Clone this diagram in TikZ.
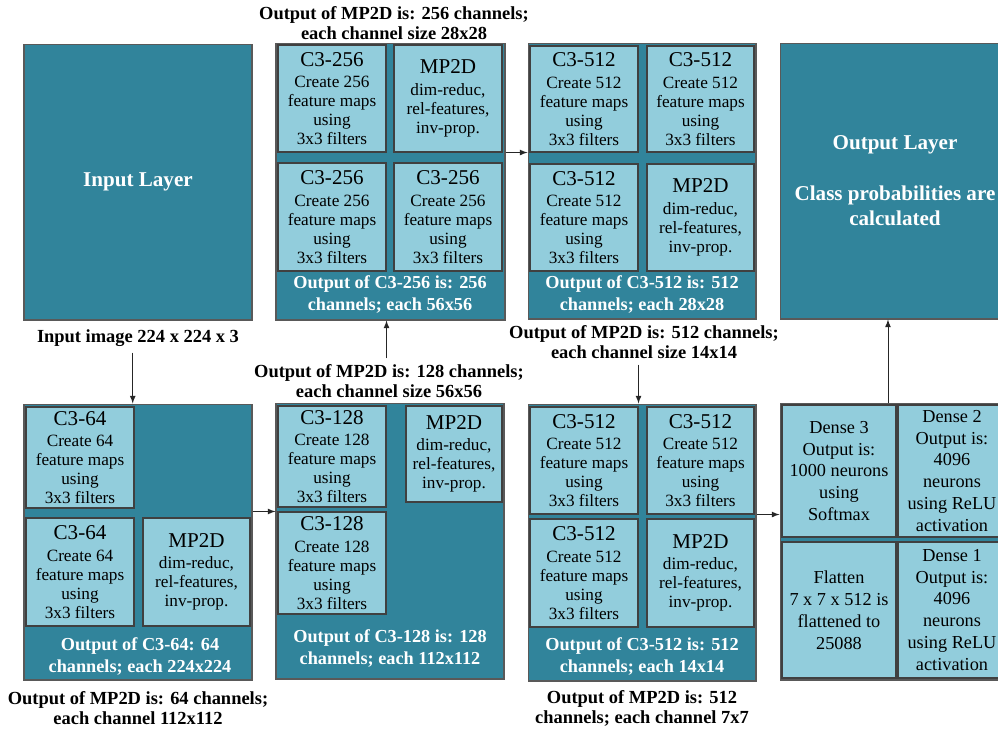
\documentclass[tikz,border=0pt]{standalone}
\usepackage{fontspec}
\setmainfont{Liberation Serif}
\usetikzlibrary{arrows}

\definecolor{layerteal}{RGB}{49,132,155}
\definecolor{maplight}{RGB}{146,205,220}

\begin{document}
\begin{tikzpicture}[x=0.02cm,y=-0.02cm]
                \tikzstyle{block}=[draw=black!65, fill=layerteal, inner sep=0pt, line width=0.6pt]
                \tikzstyle{unit}=[draw=black!75, fill=maplight, inner sep=0pt, align=center, line width=0.6pt, font=\fontsize{9.8}{10.8}\selectfont]
                \tikzstyle{dense}=[unit, font=\fontsize{10.4}{12.5}\selectfont]
                \tikzstyle{inside}=[text=white, align=center, font=\fontsize{10.4}{12.5}\selectfont\bfseries]
                \tikzstyle{caption}=[align=center, font=\fontsize{10.5}{11.3}\selectfont\bfseries]
                \tikzstyle{big}=[text=white, align=center, font=\fontsize{12}{14.2}\selectfont\bfseries]
                \tikzstyle{arr}=[-latex, black!85, line width=0.5pt]
                
                \useasboundingbox (0,0) rectangle (998,734);
                \clip (0,0) rectangle (998,734);
                
                % input
                \node[block, big, minimum width=4.56cm, minimum height=5.52cm] (inl) at (138,182) {Input Layer};
                \node[caption] (inlbl) at (138,338) {Input image 224 x 224 x 3};
                
                % C3-64
                \node[block, minimum width=4.56cm, minimum height=5.52cm] (b1) at (138,542) {};
                \node[unit, minimum width=2.16cm, minimum height=2.02cm] (c1a) at (80,457.5) {{\fontsize{12}{12}\selectfont C3-64}\\[1.5pt]Create 64\\feature maps\\using\\3x3 filters};
                \node[unit, minimum width=2.16cm, minimum height=2.16cm] (c1b) at (80,572) {{\fontsize{12}{12}\selectfont C3-64}\\[1.5pt]Create 64\\feature maps\\using\\3x3 filters};
                \node[unit, minimum width=2.14cm, minimum height=2.16cm] (m1) at (196.5,572) {{\fontsize{12}{12}\selectfont MP2D}\\[1.5pt]dim-reduc,\\rel-features,\\inv-prop.};
                \node[inside] (b1out) at (140,656) {Output of C3-64: 64\\channels; each 224x224};
                \node[caption] (b1lbl) at (138,708) {Output of MP2D is: 64 channels;\\each channel 112x112};
                
                % C3-128
                \node[block, minimum width=4.56cm, minimum height=5.52cm] (b2) at (390,541) {};
                \node[unit, minimum width=2.16cm, minimum height=2.02cm] (c2a) at (332,456.5) {{\fontsize{12}{12}\selectfont C3-128}\\[1.5pt]Create 128\\feature maps\\using\\3x3 filters};
                \node[unit, minimum width=2.16cm, minimum height=2.04cm] (c2b) at (332,563) {{\fontsize{12}{12}\selectfont C3-128}\\[1.5pt]Create 128\\feature maps\\using\\3x3 filters};
                \node[unit, minimum width=1.92cm, minimum height=1.92cm] (m2) at (454,454) {{\fontsize{12}{12}\selectfont MP2D}\\[1.5pt]dim-reduc,\\rel-features,\\inv-prop.};
                \node[inside] (b2out) at (390,648) {Output of C3-128 is: 128\\channels; each 112x112};
                \node[caption] (b2lbl) at (389,381) {Output of MP2D is: 128 channels;\\each channel size 56x56};
                
                % C3-256
                \node[block, minimum width=4.58cm, minimum height=5.54cm] (b3) at (390.5,181.5) {};
                \node[unit, minimum width=2.16cm, minimum height=2.14cm] (c3a) at (332,98.5) {{\fontsize{12}{12}\selectfont C3-256}\\[1.5pt]Create 256\\feature maps\\using\\3x3 filters};
                \node[unit, minimum width=2.16cm, minimum height=2.14cm] (m3) at (448,98.5) {{\fontsize{12}{12}\selectfont MP2D}\\[1.5pt]dim-reduc,\\rel-features,\\inv-prop.};
                \node[unit, minimum width=2.16cm, minimum height=2.16cm] (c3b) at (332,217) {{\fontsize{12}{12}\selectfont C3-256}\\[1.5pt]Create 256\\feature maps\\using\\3x3 filters};
                \node[unit, minimum width=2.16cm, minimum height=2.16cm] (c3c) at (448,217) {{\fontsize{12}{12}\selectfont C3-256}\\[1.5pt]Create 256\\feature maps\\using\\3x3 filters};
                \node[inside] (b3out) at (390,294) {Output of C3-256 is: 256\\channels; each 56x56};
                \node[caption] (b3lbl) at (394,23) {Output of MP2D is: 256 channels;\\each channel size 28x28};
                
                % C3-512, first
                \node[block, minimum width=4.56cm, minimum height=5.52cm] (b4) at (642,181) {};
                \node[unit, minimum width=2.16cm, minimum height=2.12cm] (c4a) at (584,99) {{\fontsize{12}{12}\selectfont C3-512}\\[1.5pt]Create 512\\feature maps\\using\\3x3 filters};
                \node[unit, minimum width=2.14cm, minimum height=2.12cm] (c4b) at (700.5,99) {{\fontsize{12}{12}\selectfont C3-512}\\[1.5pt]Create 512\\feature maps\\using\\3x3 filters};
                \node[unit, minimum width=2.16cm, minimum height=2.14cm] (c4c) at (584,217.5) {{\fontsize{12}{12}\selectfont C3-512}\\[1.5pt]Create 512\\feature maps\\using\\3x3 filters};
                \node[unit, minimum width=2.14cm, minimum height=2.14cm] (m4) at (700.5,217.5) {{\fontsize{12}{12}\selectfont MP2D}\\[1.5pt]dim-reduc,\\rel-features,\\inv-prop.};
                \node[inside] (b4out) at (642,294) {Output of C3-512 is: 512\\channels; each 28x28};
                \node[caption] (b4lbl) at (644,342) {Output of MP2D is: 512 channels;\\each channel size 14x14};
                
                % C3-512, second
                \node[block, minimum width=4.56cm, minimum height=5.54cm] (b5) at (642,542.5) {};
                \node[unit, minimum width=2.16cm, minimum height=2.14cm] (c5a) at (584,460.5) {{\fontsize{12}{12}\selectfont C3-512}\\[1.5pt]Create 512\\feature maps\\using\\3x3 filters};
                \node[unit, minimum width=2.14cm, minimum height=2.14cm] (c5b) at (700.5,460.5) {{\fontsize{12}{12}\selectfont C3-512}\\[1.5pt]Create 512\\feature maps\\using\\3x3 filters};
                \node[unit, minimum width=2.16cm, minimum height=2.16cm] (c5c) at (584,573) {{\fontsize{12}{12}\selectfont C3-512}\\[1.5pt]Create 512\\feature maps\\using\\3x3 filters};
                \node[unit, minimum width=2.14cm, minimum height=2.16cm] (m5) at (700.5,573) {{\fontsize{12}{12}\selectfont MP2D}\\[1.5pt]dim-reduc,\\rel-features,\\inv-prop.};
                \node[inside] (b5out) at (642,656) {Output of C3-512 is: 512\\channels; each 14x14};
                \node[caption] (b5lbl) at (642,708) {Output of MP2D is: 512\\channels; each channel 7x7};
                
                % dense part
                \node[block, minimum width=4.6cm, minimum height=5.54cm] (b6) at (895,541.5) {};
                \node[dense, minimum width=2.28cm, minimum height=2.64cm] (d3) at (839,471) {Dense 3\\Output is:\\1000 neurons\\using\\Softmax};
                \node[dense, minimum width=2.16cm, minimum height=2.64cm] (d2) at (952,471) {Dense 2\\Output is:\\4096\\neurons\\using ReLU\\activation};
                \node[dense, minimum width=2.28cm, minimum height=2.72cm] (fl) at (839,610) {Flatten\\7 x 7 x 512 is\\flattened to\\25088};
                \node[dense, minimum width=2.16cm, minimum height=2.72cm] (d1) at (952,610) {Dense 1\\Output is:\\4096\\neurons\\using ReLU\\activation};
                
                % output
                \node[block, big, minimum width=4.6cm, minimum height=5.52cm] (outl) at (895,181) {Output Layer\\[14.8pt]Class probabilities are\\calculated};
                
                \draw[arr] ([xshift=-3pt]inlbl.south) -- ([xshift=-3pt]b1.north);
                \draw[arr] (b1.east |- c2b.north) -- (b2.west |- c2b.north);
                \draw[arr] (b2lbl.north -| c3a.east) -- (c3a.east |- b3.south);
                \draw[arr] (b3.east |- m3.south) -- (b4.west |- m3.south);
                \draw[arr] (b4lbl.south -| c5a.east) -- (c5a.east |- b5.north);
                \draw[arr] (b5.east |- c5b.south) -- (b6.west |- c5b.south);
                \draw[arr] ([xshift=-4pt]b6.north) -- ([xshift=-4pt]outl.south);
                
\end{tikzpicture}
\end{document}
